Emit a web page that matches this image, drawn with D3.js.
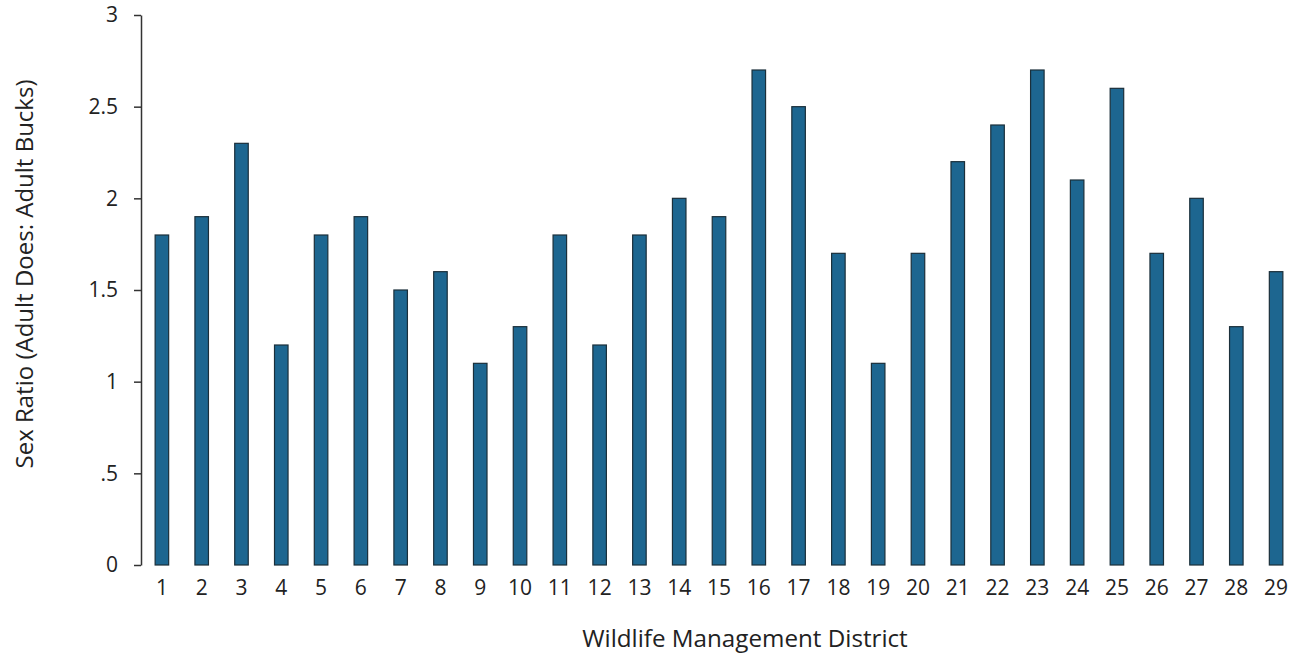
<!DOCTYPE html>
<html><head><meta charset="utf-8">
<script src="https://cdn.jsdelivr.net/npm/d3@7"></script>
<style>body{margin:0;background:#fff;} text{font-family:"Open Sans",sans-serif;fill:#222;}</style>
</head><body><svg id="c" width="1305" height="660"></svg>
<script>
const districts = d3.range(1, 30).map(String);
const ratios = [1.8,1.9,2.3,1.2,1.8,1.9,1.5,1.6,1.1,1.3,1.8,1.2,1.8,2.0,1.9,2.7,2.5,1.7,1.1,1.7,2.2,2.4,2.7,2.1,2.6,1.7,2.0,1.3,1.6];
const yTicks = [0,0.5,1,1.5,2,2.5,3];
const yTickLabels = ["0",".5","1","1.5","2","2.5","3"];

const svg = d3.select("#c");
const x = d3.scaleBand().domain(districts).range([142,1296]).paddingInner(0.66).paddingOuter(0.33);
const y = d3.scaleLinear().domain([0,3]).range([565,15]);

const yAxis = d3.axisLeft(y).tickValues(yTicks).tickFormat((d,i)=>yTickLabels[i]).tickSize(7).tickSizeOuter(0).tickPadding(16);
const gy = svg.append("g").attr("transform","translate(141,0)").call(yAxis);
gy.selectAll("path").attr("stroke","#333").attr("stroke-width",1.5);
gy.selectAll("line").attr("stroke","#333").attr("stroke-width",1.5);
gy.selectAll("text").style("font-size","21px").attr("fill","#222");

svg.append("g").selectAll("rect").data(ratios).join("rect")
  .attr("x",(d,i)=>x(districts[i]))
  .attr("width",x.bandwidth())
  .attr("y",d=>y(d))
  .attr("height",d=>y(0)-y(d))
  .attr("fill","#1d6690")
  .attr("stroke","#1b2f3a")
  .attr("stroke-width",1.2);

const xAxis = d3.axisBottom(x).tickSize(0).tickPadding(15);
const gx = svg.append("g").attr("transform","translate(0,565)").call(xAxis);
gx.select("path").remove();
gx.selectAll("text").style("font-size","21px").attr("fill","#222");

svg.append("text").attr("x",745).attr("y",647).attr("text-anchor","middle").style("font-size","24.2px").text("Wildlife Management District");
svg.append("text").attr("transform","translate(33,274) rotate(-90)").attr("text-anchor","middle").style("font-size","24px").text("Sex Ratio (Adult Does: Adult Bucks)");
</script></body></html>
